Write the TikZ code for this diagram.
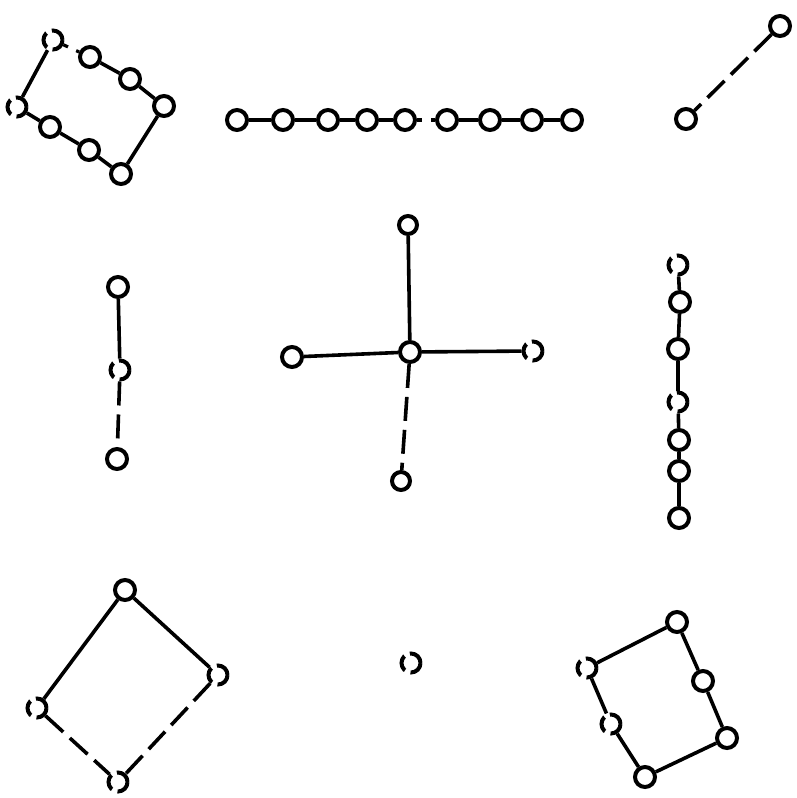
\documentclass[tikz,border=0pt]{standalone}
\begin{document}
\begin{tikzpicture}[x=1pt,y=-1pt,
  v/.style={circle,draw,line width=4pt,minimum size=20pt,inner sep=0pt},
  vs/.style={circle,draw,line width=4pt,minimum size=18pt,inner sep=0pt},
  vf/.style={circle,draw,line width=4pt,minimum size=19pt,inner sep=0pt,dash pattern=on 16pt off 6pt},
  e/.style={line width=3.6pt},
  eb/.style={line width=3.6pt,dash pattern=on 24pt off 9pt},
  ed/.style={line width=3.2pt,dash pattern=on 5pt off 9pt}]
\useasboundingbox (0,0) rectangle (796,798);
% top-left rectangle (C8)
\node[vf] (a0) at (53,40) {};
\node[v] (a1) at (90,57) {};
\node[v] (a2) at (130,79) {};
\node[v] (a3) at (164,106) {};
\node[v] (a4) at (121,174) {};
\node[v] (a5) at (89,150) {};
\node[v] (a6) at (50,127) {};
\node[vf] (a7) at (17,107) {};
\draw[ed] (a0) -- (a1);
\draw[e] (a1) -- (a2);
\draw[e] (a2) -- (a3);
\draw[e] (a3) -- (a4);
\draw[e] (a4) -- (a5);
\draw[e] (a5) -- (a6);
\draw[e] (a6) -- (a7);
\draw[e] (a7) -- (a0);
% top chain (P9)
\foreach \i/\x in {1/237,2/283,3/328,4/367,5/405,6/447,7/490,8/532,9/572}
  \node[v] (b\i) at (\x,120) {};
\draw[e] (b1) -- (b2);
\draw[e] (b2) -- (b3);
\draw[e] (b3) -- (b4);
\draw[e] (b4) -- (b5);
\draw[ed] (b5) -- (b6);
\draw[e] (b6) -- (b7);
\draw[e] (b7) -- (b8);
\draw[e] (b8) -- (b9);
% top-right edge
\node[v] (c1) at (780,26) {};
\node[v] (c2) at (686,119) {};
\draw[eb] (c1) -- (c2);
% left vertical path
\node[v] (d1) at (118,287) {};
\node[vf] (d2) at (120,370) {};
\node[v] (d3) at (117,459) {};
\draw[e] (d1) -- (d2);
\draw[eb] (d2) -- (d3);
% star
\node[v] (s0) at (410,352) {};
\node[vs] (s1) at (408,225) {};
\node[v] (s2) at (292,357) {};
\node[vf] (s3) at (533,351) {};
\node[vs] (s4) at (401,481) {};
\draw[e] (s0) -- (s1);
\draw[e] (s0) -- (s2);
\draw[e] (s0) -- (s3);
\draw[eb] (s0) -- (s4);
% right vertical path (P7)
\node[vf] (r1) at (678,265) {};
\node[v] (r2) at (680,302) {};
\node[v] (r3) at (678,349) {};
\node[vf] (r4) at (678,402) {};
\node[v] (r5) at (679,440) {};
\node[v] (r6) at (679,471) {};
\node[v] (r7) at (679,518) {};
\draw[e] (r1) -- (r2);
\draw[e] (r2) -- (r3);
\draw[e] (r3) -- (r4);
\draw[e] (r4) -- (r5);
\draw[e] (r5) -- (r6);
\draw[e] (r6) -- (r7);
% bottom-left square (C4)
\node[v] (q1) at (125,590) {};
\node[vf] (q2) at (218,675) {};
\node[vf] (q3) at (37,708) {};
\node[vf] (q4) at (118,782) {};
\draw[e] (q1) -- (q2);
\draw[e] (q1) -- (q3);
\draw[eb] (q2) -- (q4);
\draw[eb] (q3) -- (q4);
% isolated vertex
\node[vf] (iso) at (411,663) {};
% bottom-right hexagon (C6)
\node[v] (h1) at (677,622) {};
\node[vf] (h2) at (587,668) {};
\node[vf] (h3) at (611,724) {};
\node[v] (h4) at (645,777) {};
\node[v] (h5) at (727,738) {};
\node[v] (h6) at (703,681) {};
\draw[e] (h1) -- (h2);
\draw[e] (h2) -- (h3);
\draw[e] (h3) -- (h4);
\draw[e] (h4) -- (h5);
\draw[e] (h5) -- (h6);
\draw[e] (h6) -- (h1);
\end{tikzpicture}
\end{document}
